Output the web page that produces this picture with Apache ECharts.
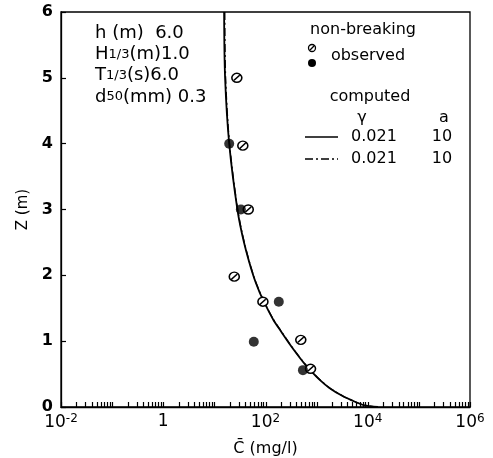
<!DOCTYPE html>
<html>
<head>
<meta charset="utf-8">
<script src="https://cdn.jsdelivr.net/npm/echarts@6/dist/echarts.min.js"></script>
<style>
html,body{margin:0;padding:0;background:#fff;}
#chart{width:493px;height:458px;}
</style>
</head>
<body>
<div id="chart"></div>
<script>
// ---- data (concentration C in mg/l, elevation Z in m) ----
const computedSolid = [[15.5,6.0],[16.2,5.0],[19.5,4.0],[28.2,3.0],[38,2.5],[57.5,2.0],[76,1.75],[100,1.55],[141,1.33],[200,1.15],[282,0.98],[398,0.82],[562,0.67],[794,0.54],[1122,0.42],[1778,0.29],[3162,0.17],[5623,0.08],[8300,0.03],[15850,0]];
const computedDashDot = [[16.0,6.0],[16.6,5.0],[19.8,4.0],[28.6,3.0],[38.5,2.5],[58,2.0],[77,1.75],[101,1.55],[143,1.33],[203,1.15],[286,0.98],[403,0.82],[570,0.67],[805,0.54],[1140,0.42],[1800,0.29],[3200,0.17],[5700,0.08],[8400,0.03],[16000,0]];
const observedHatched = [[27.5,5.0],[36,3.97],[46,3.0],[24.5,1.98],[89,1.6],[490,1.02],[760,0.58]];
const observedFilled = [[19.5,4.0],[33,3.0],[182,1.6],[59,0.99],[540,0.56]];
const xMin = 0.01, xMax = 1e6;
const paramLines = [
  ['h (m)', '', '  6.0'],
  ['H', '1/3', '(m)1.0'],
  ['T', '1/3', '(s)6.0'],
  ['d', '50', '(mm) 0.3']
];

// tick positions on log axis: decades and 2..9 within each decade
const xTickVals = [];
for (let e = -2; e <= 6; e++) {
  for (let m = 1; m <= 9; m++) {
    const v = m * Math.pow(10, e);
    if (v <= xMax * 1.0001) xTickVals.push([v, 0]);
  }
}

const FONT = 'DejaVu Sans';
const hatchPath = 'path://M0,5A5,5 0 1,1 10,5A5,5 0 1,1 0,5Z M2.2,7.8L7.8,2.2';

const chart = echarts.init(document.getElementById('chart'), null, {renderer:'canvas'});

const paramGraphics = paramLines.map((p, i) => ({
  type: 'text', x: 95, y: 33 + i * 21.3,
  style: {
    text: '{a|' + p[0] + '}' + (p[1] ? '{s|' + p[1] + '}' : '') + '{a|' + p[2] + '}',
    rich: {
      a: {fontFamily: FONT, fontSize: 18, fill: '#000'},
      s: {fontFamily: FONT, fontSize: 13, fill: '#000'}
    },
    verticalAlign: 'middle',
    fill: '#000'
  }
}));

const txt = (x, y, s, size, align) => ({
  type: 'text', x: x, y: y,
  style: {text: s, fontFamily: FONT, fontSize: size || 16, fill: '#000', align: align || 'center', verticalAlign: 'middle'}
});

chart.setOption({
  animation: false,
  backgroundColor: '#fff',
  grid: {left: 61, right: 23, top: 12, bottom: 51, containLabel: false, outerBoundsMode: 'none',
         show: true, borderColor: '#000', borderWidth: 1.3, backgroundColor: 'transparent'},
  xAxis: {
    type: 'log', logBase: 10, min: xMin, max: xMax, splitNumber: 4,
    axisLine: {show: true, lineStyle: {color: '#000', width: 1.3}},
    axisTick: {show: false},
    splitLine: {show: false},
    minorTick: {show: false},
    axisLabel: {
      margin: 6, color: '#000',
      formatter: function (v) {
        const e = Math.round(Math.log10(v));
        if (e % 2 !== 0) return '';
        if (e === 0) return '{b|1}';
        return '{b|10}{s|' + e + '}';
      },
      rich: {
        b: {fontFamily: FONT, fontSize: 17, color: '#000'},
        s: {fontFamily: FONT, fontSize: 12, color: '#000', verticalAlign: 'top', padding: [0,0,8,0]}
      }
    },
    name: 'C\u0304 (mg/l)', nameLocation: 'middle', nameGap: 34,
    nameTextStyle: {fontFamily: FONT, fontSize: 16, color: '#000'}
  },
  yAxis: {
    type: 'value', min: 0, max: 6, interval: 1,
    axisLine: {show: true, lineStyle: {color: '#000', width: 1.3}},
    axisTick: {show: true, inside: true, length: 5, lineStyle: {color: '#000', width: 1.2}},
    splitLine: {show: false},
    axisLabel: {margin: 8, color: '#000', fontFamily: FONT, fontSize: 16, fontWeight: 'bold'},
    name: 'Z (m)', nameLocation: 'middle', nameGap: 30, nameRotate: 90,
    nameTextStyle: {fontFamily: FONT, fontSize: 15, color: '#000'}
  },
  graphic: paramGraphics.concat([
    txt(363, 30, 'non-breaking'),
    {type: 'circle', shape: {cx: 312, cy: 48, r: 3.5}, style: {fill: '#fff', stroke: '#000', lineWidth: 1.3}},
    {type: 'line', shape: {x1: 309.8, y1: 50.2, x2: 314.2, y2: 45.8}, style: {stroke: '#000', lineWidth: 1.3}},
    {type: 'circle', shape: {cx: 312, cy: 63, r: 4}, style: {fill: '#000'}},
    txt(368, 56, 'observed'),
    txt(370, 97, 'computed'),
    txt(362, 118, 'γ', 16),
    txt(444, 118, 'a', 16),
    {type: 'line', shape: {x1: 305, y1: 137, x2: 338, y2: 137}, style: {stroke: '#000', lineWidth: 1.5}},
    txt(374, 137, '0.021'),
    txt(442, 137, '10'),
    {type: 'line', shape: {x1: 305, y1: 159, x2: 338, y2: 159}, style: {stroke: '#000', lineWidth: 1.5, lineDash: [8,3,2,3]}},
    txt(374, 159, '0.021'),
    txt(442, 159, '10')
  ]),
  series: [
    {
      type: 'custom', data: xTickVals, silent: true, clip: false, z: 1,
      encode: {x: 0, y: 1},
      renderItem: function (params, api) {
        const p = api.coord([api.value(0), 0]);
        const x = Math.round(p[0]) + 0.5;
        return {type: 'line', shape: {x1: x, y1: p[1], x2: x, y2: p[1] - 5}, style: {stroke: '#000', lineWidth: 1.2}};
      }
    },
    {
      type: 'line', data: computedSolid, smooth: 0.3, showSymbol: false, clip: true,
      lineStyle: {color: '#000', width: 1.8}, z: 2
    },
    {
      type: 'line', data: computedDashDot, smooth: 0.3, showSymbol: false, clip: true,
      lineStyle: {color: '#000', width: 1.3, type: [8,3,2,3]}, z: 2
    },
    {
      type: 'scatter', data: observedHatched, symbol: hatchPath, symbolSize: [10, 9],
      itemStyle: {color: '#fff', borderColor: '#000', borderWidth: 1.5, opacity: 1}, z: 3
    },
    {
      type: 'scatter', data: observedFilled, symbol: 'circle', symbolSize: 10,
      itemStyle: {color: '#000'}, z: 4
    }
  ]
});
</script>
</body>
</html>
